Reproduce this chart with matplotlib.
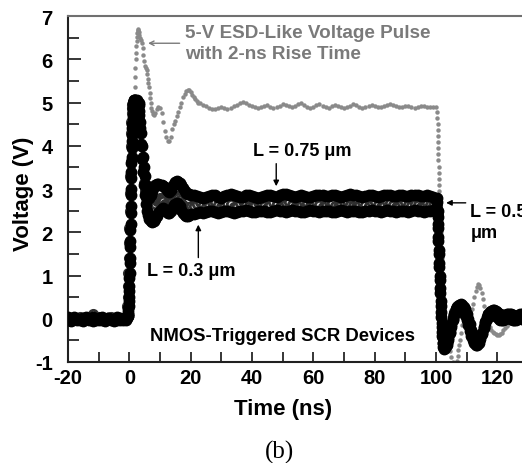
import matplotlib
matplotlib.use("Agg")
import matplotlib.pyplot as plt
from matplotlib.ticker import MultipleLocator

plt.rcParams["font.family"] = ["Liberation Sans", "DejaVu Sans"]
plt.rcParams["font.weight"] = "bold"
plt.rcParams["axes.unicode_minus"] = False

# ---- 5-V ESD-like voltage pulse (gray dotted trace) ----
T_PULSE = [
    -20, -19, -18, -17, -16, -15, -14, -13, -12, -11, -10, -9, -8, -7, -6, -5, -4, -3, -2, -1,
    0.4, 0.7, 1.0, 1.2, 1.4, 1.6, 1.7, 1.8, 1.9, 2.0, 2.1, 2.2, 2.3, 2.4, 2.5, 2.6, 2.7, 2.8, 2.9,
    3.0, 3.3, 3.6, 3.9, 4.2, 4.4, 4.6, 4.8, 5.0, 5.3, 5.6, 5.8, 6.0, 6.2, 6.4, 6.6, 6.8, 7.0, 7.2, 7.4, 7.7,
    8.0, 8.5, 9.0, 9.5, 10.0, 10.5, 11.0, 11.5, 12.0, 12.5, 13.0, 13.5, 14.0, 14.5, 15.0, 15.5, 16.0, 16.5,
    17.0, 17.5, 18.0, 18.5, 19.0, 19.5, 20.0, 20.5, 21.0, 21.5, 22.0, 22.5, 23.0,
    24, 25, 26, 27, 28, 29, 30, 31, 32, 33, 34, 35, 36, 37, 38, 39, 40, 41, 42, 43,
    44, 45, 46, 47, 48, 49, 50, 51, 52, 53, 54, 55, 56, 57, 58, 59, 60, 61, 62, 63,
    64, 65, 66, 67, 68, 69, 70, 71, 72, 73, 74, 75, 76, 77, 78, 79, 80, 81, 82, 83,
    84, 85, 86, 87, 88, 89, 90, 91, 92, 93, 94, 95, 96, 97, 98, 99, 100,
    100.4, 100.45, 100.5, 100.55, 100.6, 100.65, 100.7, 100.75, 100.8, 100.85, 100.9, 100.95, 101.0,
    101.05, 101.1, 101.2, 101.3, 101.4, 101.5, 101.6, 101.7, 101.8, 101.9, 102.0, 102.1, 102.2, 102.3,
    102.4, 102.5, 102.6, 102.7, 102.8, 102.9, 103.0,
    103.5, 104.0, 104.5, 105.0, 105.5, 106.0, 106.3, 106.6, 106.9, 107.1, 107.3, 107.5, 107.7, 108.0,
    108.4, 108.8, 109.2, 109.7, 110.2, 110.7, 111.2, 111.7, 112.1, 112.5, 112.9, 113.3, 113.7, 114.1,
    114.5, 114.9, 115.3, 115.7, 116.1, 116.5, 117.0, 117.5, 118.0, 118.5, 119.0, 119.5, 120.0, 120.5,
    121.0, 121.5, 122.0, 122.5, 123.0, 123.5, 124.0, 124.5, 125.0, 125.5, 126.0, 126.5, 127.0, 127.5,
    128.0, 128.5, 129.0,
]
V_PULSE = [
    0.0, 0.02, -0.02, 0.01, 0.0, -0.03, 0.02, 0.0, -0.01, 0.02, 0.0, -0.02, 0.01, 0.03, -0.01, 0.0, 0.02, -0.02, 0.01, 0.0,
    0.3, 1.2, 2.4, 3.3, 4.1, 4.8, 5.1, 5.35, 5.6, 5.8, 6.0, 6.15, 6.3, 6.42, 6.52, 6.6, 6.65, 6.68, 6.7,
    6.62, 6.55, 6.5, 6.45, 6.38, 6.25, 6.1, 5.95, 5.85, 5.8, 5.75, 5.65, 5.55, 5.45, 5.35, 5.22, 5.1, 4.98, 4.88, 4.8, 4.73,
    4.7, 4.75, 4.85, 4.9, 4.88, 4.75, 4.55, 4.35, 4.2, 4.1, 4.1, 4.2, 4.38, 4.5, 4.58, 4.68, 4.78, 4.9,
    5.0, 5.12, 5.2, 5.26, 5.3, 5.3, 5.25, 5.18, 5.12, 5.07, 5.03, 5.0, 4.98,
    4.95, 4.92, 4.88, 4.86, 4.85, 4.87, 4.9, 4.88, 4.86, 4.88, 4.92, 4.95, 4.98, 5.02, 5.0, 4.95, 4.92, 4.9, 4.88, 4.9,
    4.92, 4.94, 4.9, 4.88, 4.9, 4.93, 4.97, 4.95, 4.91, 4.89, 4.92, 4.96, 4.98, 4.94, 4.9, 4.88, 4.9, 4.94, 4.97, 4.93,
    4.9, 4.88, 4.91, 4.95, 4.92, 4.89, 4.87, 4.9, 4.93, 4.96, 4.94, 4.9, 4.88, 4.9, 4.93, 4.95, 4.91, 4.89, 4.9, 4.92,
    4.95, 4.97, 4.94, 4.91, 4.89, 4.9, 4.93, 4.92, 4.9, 4.88, 4.9, 4.93, 4.92, 4.9, 4.89, 4.9, 4.9,
    4.78, 4.64, 4.5, 4.36, 4.22, 4.08, 3.94, 3.8, 3.66, 3.52, 3.38, 3.24, 3.1,
    2.96, 2.82, 2.6, 2.4, 2.2, 2.0, 1.8, 1.6, 1.4, 1.2, 1.0, 0.82, 0.66, 0.55,
    0.44, 0.32, 0.18, 0.05, -0.08, -0.2, -0.3,
    -0.5, -0.62, -0.75, -0.88, -1.0, -1.1, -1.15, -1.1, -0.98, -0.85, -0.72, -0.6, -0.48, -0.32,
    -0.15, 0.0, 0.1, 0.16, 0.16, 0.14, 0.15, 0.22, 0.35, 0.5, 0.64, 0.74, 0.8, 0.79,
    0.72, 0.6, 0.45, 0.3, 0.15, 0.02, -0.1, -0.2, -0.26, -0.3, -0.33, -0.36, -0.38, -0.38,
    -0.36, -0.32, -0.27, -0.22, -0.17, -0.12, -0.08, -0.05, -0.02, 0.0, 0.01, 0.0, -0.01, 0.0,
    0.01, 0.02, 0.0,
]

# ---- NMOS-triggered SCR device voltages (shared sample times) ----
T_DEV = [
    -20, -19, -18, -17, -16, -15, -14, -13, -12, -11, -10, -9, -8, -7, -6, -5, -4, -3, -2, -1,
    -0.6, -0.5, -0.4, -0.3, -0.2, -0.1, 0.0, 0.1, 0.2, 0.3, 0.4, 0.5, 0.6, 0.7, 0.8, 0.9, 1.0,
    1.1, 1.2, 1.3, 1.4, 1.5,
    2.0, 2.5, 3.0, 3.3, 3.6, 3.9, 4.2, 4.5, 4.8, 5.1, 5.4, 5.7, 6.0, 6.5, 7.0, 7.5, 8.0, 8.5,
    9.0, 9.5, 10.0, 10.5, 11.0, 11.5, 12.0, 12.5, 13.0, 13.5, 14.0, 14.5, 15.0, 15.5, 16.0, 16.5,
    17.0, 17.5, 18.0, 18.5, 19.0, 19.5, 20.0,
    21, 22, 23, 24, 25, 26, 27, 28, 29, 30, 31, 32, 33, 34, 35, 36, 37, 38, 39, 40,
    41, 42, 43, 44, 45, 46, 47, 48, 49, 50, 51, 52, 53, 54, 55, 56, 57, 58, 59, 60,
    61, 62, 63, 64, 65, 66, 67, 68, 69, 70, 71, 72, 73, 74, 75, 76, 77, 78, 79, 80,
    81, 82, 83, 84, 85, 86, 87, 88, 89, 90, 91, 92, 93, 94, 95, 96, 97, 98, 99,
    100.2, 100.35, 100.5, 100.65, 100.8, 100.95, 101.1, 101.25, 101.4, 101.55, 101.7, 101.85,
    102.0, 102.2, 102.4, 102.6,
    103.0, 103.5, 104.0, 104.5, 105.0, 105.5, 106.0, 106.5, 107.0, 107.5, 108.0, 108.5, 109.0,
    109.5, 110.0, 110.5, 111.0, 111.5, 112.0, 112.5, 113.0, 113.5, 114.0, 114.5, 115.0, 115.5,
    116.0, 116.5, 117.0, 117.5, 118.0, 118.5, 119.0, 119.5, 120.0, 120.5, 121.0, 121.5, 122.0,
    122.5, 123.0, 123.5, 124.0, 124.5, 125.0, 125.5, 126.0, 126.5, 127.0, 127.5, 128.0, 128.5, 129.0,
]
V_L075 = [
    0.03, -0.02, 0.05, 0.0, -0.04, 0.02, 0.04, -0.01, 0.03, -0.03, 0.01, 0.04, -0.02, 0.02, 0.0, -0.03, 0.03, 0.01, -0.02, 0.04,
    0.03, 0.06, 0.1, 0.18, 0.3, 0.5, 0.75, 1.05, 1.4, 1.8, 2.2, 2.6, 3.0, 3.4, 3.75, 4.1, 4.4,
    4.65, 4.85, 4.97, 5.03, 5.05,
    5.05, 5.05, 5.0, 4.8, 4.55, 4.3, 4.0, 3.75, 3.5, 3.3, 3.1, 2.95, 2.85, 2.8, 2.85, 2.95, 3.05, 3.1,
    3.12, 3.12, 3.1, 3.1, 3.08, 3.05, 3.0, 2.95, 2.93, 2.97, 3.05, 3.12, 3.16, 3.18, 3.17, 3.15,
    3.1, 3.02, 2.95, 2.9, 2.88, 2.88, 2.87,
    2.86, 2.84, 2.82, 2.80, 2.81, 2.84, 2.86, 2.85, 2.82, 2.80, 2.83, 2.87, 2.88, 2.86, 2.83, 2.81, 2.82, 2.85, 2.86, 2.84,
    2.82, 2.80, 2.81, 2.84, 2.86, 2.85, 2.83, 2.82, 2.85, 2.88, 2.89, 2.87, 2.84, 2.82, 2.83, 2.85, 2.84, 2.82, 2.81, 2.83,
    2.86, 2.87, 2.85, 2.83, 2.84, 2.86, 2.85, 2.83, 2.82, 2.84, 2.86, 2.88, 2.87, 2.85, 2.83, 2.82, 2.84, 2.86, 2.85, 2.83,
    2.82, 2.84, 2.86, 2.87, 2.85, 2.83, 2.84, 2.86, 2.85, 2.84, 2.83, 2.85, 2.87, 2.86, 2.84, 2.83, 2.85, 2.84, 2.82,
    2.8, 2.7, 2.5, 2.2, 1.9, 1.6, 1.3, 1.0, 0.7, 0.4, 0.15, -0.1,
    -0.3, -0.45, -0.55, -0.6,
    -0.6, -0.55, -0.45, -0.3, -0.15, 0.0, 0.12, 0.22, 0.28, 0.32, 0.33, 0.32, 0.28,
    0.22, 0.12, 0.0, -0.12, -0.25, -0.35, -0.43, -0.48, -0.5, -0.48, -0.42, -0.32, -0.2,
    -0.08, 0.03, 0.1, 0.15, 0.18, 0.2, 0.2, 0.18, 0.15, 0.12, 0.1, 0.08, 0.07,
    0.08, 0.1, 0.12, 0.12, 0.1, 0.08, 0.06, 0.05, 0.06, 0.08, 0.1, 0.1, 0.08, 0.06,
]
V_L05 = [
    -0.05, 0.02, -0.03, 0.01, 0.03, -0.04, 0.0, 0.02, 0.12, -0.02, 0.03, -0.04, 0.01, -0.01, 0.03, -0.02, 0.0, 0.02, -0.03, 0.01,
    0.3, 0.5, 0.75, 1.05, 1.4, 1.75, 2.1, 2.5, 2.9, 3.3, 3.65, 4.0, 4.3, 4.55, 4.75, 4.88, 4.95,
    4.98, 4.97, 4.95, 4.93, 4.9,
    4.9, 4.85, 4.8, 4.6, 4.3, 4.0, 3.7, 3.4, 3.15, 2.95, 2.8, 2.65, 2.55, 2.45, 2.42, 2.45, 2.55, 2.65,
    2.72, 2.78, 2.8, 2.78, 2.72, 2.66, 2.6, 2.58, 2.6, 2.66, 2.74, 2.8, 2.84, 2.84, 2.8, 2.74,
    2.68, 2.62, 2.58, 2.56, 2.57, 2.58, 2.6,
    2.60, 2.66, 2.70, 2.63, 2.58, 2.62, 2.69, 2.71, 2.64, 2.59, 2.61, 2.68, 2.65, 2.58, 2.60, 2.67, 2.72, 2.66, 2.60, 2.58,
    2.63, 2.70, 2.68, 2.61, 2.57, 2.62, 2.69, 2.66, 2.59, 2.61, 2.67, 2.71, 2.64, 2.59, 2.58, 2.64, 2.70, 2.68, 2.61, 2.63,
    2.69, 2.62, 2.58, 2.63, 2.71, 2.67, 2.60, 2.58, 2.65, 2.70, 2.72, 2.64, 2.60, 2.58, 2.64, 2.69, 2.62, 2.60, 2.68, 2.71,
    2.63, 2.58, 2.62, 2.70, 2.68, 2.63, 2.58, 2.61, 2.67, 2.71, 2.64, 2.60, 2.66, 2.62, 2.58, 2.61, 2.68, 2.64, 2.61,
    2.6, 2.55, 2.4, 2.15, 1.85, 1.55, 1.25, 0.95, 0.65, 0.35, 0.1, -0.15,
    -0.35, -0.5, -0.6, -0.65,
    -0.62, -0.52, -0.4, -0.25, -0.1, 0.04, 0.15, 0.24, 0.3, 0.32, 0.31, 0.27, 0.2,
    0.12, 0.02, -0.1, -0.22, -0.33, -0.42, -0.5, -0.55, -0.56, -0.52, -0.44, -0.32, -0.18,
    -0.05, 0.05, 0.12, 0.16, 0.17, 0.16, 0.14, 0.11, 0.08, 0.05, 0.03, 0.02, 0.03,
    0.05, 0.07, 0.08, 0.07, 0.05, 0.03, 0.02, 0.03, 0.05, 0.06, 0.05, 0.04, 0.03, 0.02,
]
V_L03 = [
    -0.02, -0.06, 0.01, -0.04, -0.01, -0.05, 0.02, -0.03, -0.06, 0.0, -0.04, -0.02, -0.05, 0.01, -0.03, -0.06, -0.02, -0.04, 0.0, -0.03,
    0.02, 0.06, 0.12, 0.25, 0.42, 0.65, 0.95, 1.3, 1.65, 2.05, 2.45, 2.85, 3.25, 3.6, 3.95, 4.25, 4.5,
    4.72, 4.88, 4.98, 5.03, 5.05,
    5.05, 5.0, 4.95, 4.7, 4.4, 4.05, 3.7, 3.4, 3.1, 2.85, 2.65, 2.5, 2.4, 2.3, 2.25, 2.23, 2.25, 2.3,
    2.38, 2.45, 2.5, 2.54, 2.55, 2.52, 2.48, 2.45, 2.45, 2.5, 2.55, 2.62, 2.66, 2.68, 2.66, 2.6,
    2.52, 2.45, 2.4, 2.38, 2.38, 2.4, 2.42,
    2.42, 2.44, 2.46, 2.45, 2.47, 2.49, 2.48, 2.46, 2.45, 2.47, 2.50, 2.49, 2.47, 2.45, 2.46, 2.48, 2.50, 2.51, 2.49, 2.47,
    2.46, 2.48, 2.50, 2.49, 2.47, 2.46, 2.48, 2.51, 2.50, 2.48, 2.47, 2.49, 2.51, 2.50, 2.48, 2.46, 2.47, 2.49, 2.51, 2.50,
    2.48, 2.47, 2.49, 2.50, 2.48, 2.46, 2.47, 2.50, 2.51, 2.49, 2.47, 2.48, 2.50, 2.49, 2.47, 2.46, 2.48, 2.50, 2.51, 2.49,
    2.48, 2.47, 2.49, 2.51, 2.50, 2.48, 2.47, 2.49, 2.50, 2.48, 2.47, 2.49, 2.51, 2.50, 2.48, 2.47, 2.49, 2.50, 2.51,
    2.48, 2.45, 2.35, 2.1, 1.8, 1.5, 1.2, 0.9, 0.6, 0.3, 0.05, -0.2,
    -0.4, -0.55, -0.65, -0.7,
    -0.68, -0.6, -0.48, -0.33, -0.18, -0.04, 0.08, 0.18, 0.25, 0.28, 0.28, 0.24, 0.17,
    0.08, -0.03, -0.15, -0.28, -0.4, -0.5, -0.57, -0.6, -0.6, -0.56, -0.47, -0.35, -0.22,
    -0.1, 0.0, 0.07, 0.11, 0.12, 0.11, 0.09, 0.06, 0.03, 0.0, -0.02, -0.03, -0.02,
    0.0, 0.02, 0.03, 0.02, 0.0, -0.02, -0.03, -0.02, 0.0, 0.02, 0.01, 0.0, -0.01, -0.02,
]

X_TICKS = [-20, 0, 20, 40, 60, 80, 100, 120]
Y_TICKS = [-1, 0, 1, 2, 3, 4, 5, 6, 7]


def main() -> None:
    fig = plt.figure(figsize=(5.22, 4.64), dpi=100)
    ax = fig.add_axes([68 / 522, 101 / 464, 460 / 522, 346 / 464])

    ax.plot(T_PULSE, V_PULSE, "o", color="#8a8a8a", markersize=3.2, markeredgewidth=0, zorder=2)
    # open-circle trace sits under the two black traces, only peeking through the gaps
    ax.plot(T_DEV, V_L05, "o", markerfacecolor="#e6e6e6", markeredgecolor="#303030",
            markeredgewidth=2.0, markersize=6.0, zorder=3)
    ax.plot(T_DEV, V_L03, "o", color="black", markersize=7.5, zorder=4)
    ax.plot(T_DEV, V_L075, "o", color="black", markersize=7.5, zorder=4)

    ax.set_xlim(-20, 130)
    ax.set_ylim(-1, 7)
    ax.set_xticks(X_TICKS)
    ax.set_yticks(Y_TICKS)
    ax.xaxis.set_minor_locator(MultipleLocator(10))
    ax.yaxis.set_minor_locator(MultipleLocator(0.5))
    ax.tick_params(which="both", direction="in", width=1.1, labelsize=14.5)
    ax.tick_params(axis="y", which="major", length=9, pad=11)
    ax.tick_params(axis="y", which="minor", length=8)
    ax.tick_params(axis="x", which="both", length=7.5, pad=4)
    for lab in ax.get_xticklabels() + ax.get_yticklabels():
        lab.set_fontweight("bold")
    for side in ("left", "bottom"):
        ax.spines[side].set_linewidth(1.5)
        ax.spines[side].set_color("#202020")
    ax.spines["top"].set_linewidth(1.5)
    ax.spines["top"].set_color("#707070")

    ax.set_xlabel("Time (ns)", fontsize=16, fontweight="bold")
    ax.set_ylabel("Voltage (V)", fontsize=16, fontweight="bold")
    ax.xaxis.set_label_coords(0.467, -0.105)
    ax.yaxis.set_label_coords(-0.074, 0.49)

    ax.text(18.3, 6.37, "5-V ESD-Like Voltage Pulse\nwith 2-ns Rise Time", color="#7a7a7a",
            fontsize=13.6, fontweight="bold", ha="left", va="center", linespacing=1.32)
    ax.annotate("", xy=(5.2, 6.37), xytext=(17.3, 6.37),
                arrowprops=dict(arrowstyle="->", color="#7a7a7a", lw=1.0, mutation_scale=8))

    ax.text(56.4, 3.88, "L = 0.75 μm", fontsize=13, fontweight="bold", ha="center", va="center")
    ax.annotate("", xy=(47.9, 3.0), xytext=(47.9, 3.65),
                arrowprops=dict(arrowstyle="-|>", color="black", lw=1.0, mutation_scale=8))

    ax.text(20.2, 1.11, "L = 0.3 μm", fontsize=13, fontweight="bold", ha="center", va="center")
    ax.annotate("", xy=(22.5, 2.24), xytext=(22.5, 1.35),
                arrowprops=dict(arrowstyle="-|>", color="black", lw=1.0, mutation_scale=8))

    ax.text(111.2, 2.68, "L = 0.5\nμm", fontsize=13, fontweight="bold", ha="left", va="top",
            linespacing=1.3, clip_on=False)
    ax.annotate("", xy=(102.4, 2.68), xytext=(110.6, 2.68),
                arrowprops=dict(arrowstyle="-|>", color="black", lw=1.0, mutation_scale=8))

    ax.text(6.85, -0.39, "NMOS-Triggered SCR Devices", fontsize=13.3, fontweight="bold",
            ha="left", va="center")

    fig.text(280 / 522, 1 - 452 / 464, "(b)", fontsize=18, fontweight="normal",
             family="Liberation Serif", ha="center", va="center")

    fig.savefig("out.png", dpi=100)
    plt.close(fig)


if __name__ == "__main__":
    main()
